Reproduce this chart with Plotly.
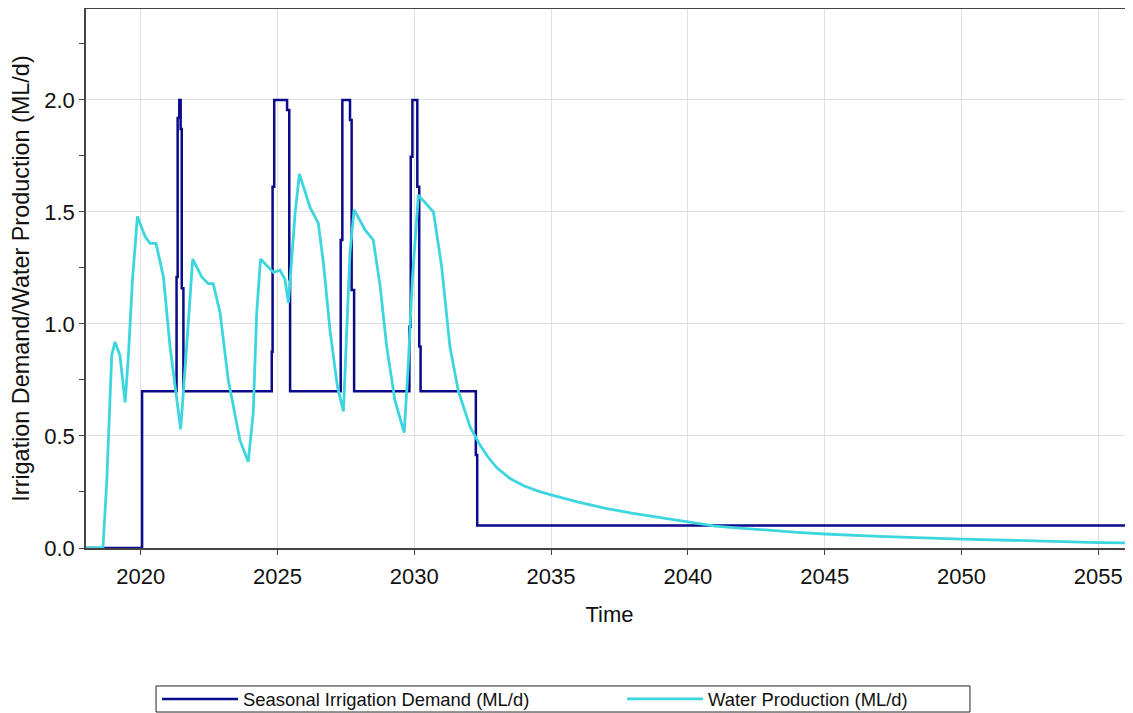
import plotly.graph_objects as go

# Seasonal Irrigation Demand (step series, value holds until next time)
demand_time = [2018.0, 2020.05, 2021.31, 2021.35, 2021.41, 2021.46, 2021.50, 2021.56,
               2024.79, 2024.82, 2024.88, 2025.35, 2025.43, 2025.46,
               2027.31, 2027.37, 2027.65, 2027.71, 2027.80,
               2029.82, 2029.87, 2029.93, 2030.11, 2030.18, 2030.23,
               2032.25, 2032.30, 2056.27]
demand_value = [0.0, 0.7, 1.21, 1.92, 2.0, 1.87, 1.16, 0.7,
                0.876, 1.613, 2.0, 1.955, 1.2, 0.7,
                1.375, 2.0, 1.91, 1.152, 0.7,
                0.988, 1.747, 2.0, 1.613, 0.899, 0.7,
                0.415, 0.1, 0.1]

# Water Production
prod_time = [2018.0, 2018.62, 2018.76, 2018.85, 2018.94, 2019.06, 2019.24, 2019.43, 2019.55,
             2019.70, 2019.88, 2020.16, 2020.34, 2020.56, 2020.83, 2021.07, 2021.31, 2021.46,
             2021.68, 2021.90, 2022.23, 2022.47, 2022.65, 2022.90, 2023.20, 2023.63, 2023.93,
             2024.11, 2024.24, 2024.38, 2024.85, 2025.09, 2025.27, 2025.40, 2025.64, 2025.80,
             2026.19, 2026.49, 2026.68, 2026.92, 2027.19, 2027.41, 2027.53, 2027.65, 2027.80,
             2028.20, 2028.50, 2028.75, 2028.99, 2029.29, 2029.63, 2029.78, 2029.93, 2030.15,
             2030.70, 2031.00, 2031.30, 2031.61, 2032.04, 2032.40, 2032.70, 2033.00, 2033.50,
             2034.00, 2034.50, 2035.00, 2036.00, 2037.00, 2038.00, 2039.00, 2040.00, 2041.00,
             2042.00, 2043.00, 2044.00, 2045.00, 2047.00, 2050.00, 2052.50, 2055.00, 2056.27]
prod_value = [0.0, 0.0, 0.30, 0.61, 0.86, 0.92, 0.86, 0.65, 0.86,
              1.20, 1.48, 1.39, 1.36, 1.36, 1.21, 0.90, 0.66, 0.53,
              0.90, 1.29, 1.21, 1.18, 1.18, 1.05, 0.75, 0.48, 0.385,
              0.60, 1.05, 1.29, 1.23, 1.24, 1.20, 1.095, 1.49, 1.67,
              1.52, 1.45, 1.27, 0.97, 0.72, 0.61, 0.97, 1.32, 1.51,
              1.42, 1.375, 1.17, 0.90, 0.66, 0.515, 0.82, 1.20, 1.575,
              1.50, 1.256, 0.90, 0.70, 0.54, 0.46, 0.405, 0.36, 0.31,
              0.278, 0.255, 0.237, 0.205, 0.177, 0.155, 0.135, 0.118, 0.098,
              0.088, 0.078, 0.070, 0.0625, 0.052, 0.040, 0.031, 0.024, 0.022]

x_ticks = [2020, 2025, 2030, 2035, 2040, 2045, 2050, 2055]
y_ticks = [0.0, 0.5, 1.0, 1.5, 2.0]
y_minor = [0.25, 0.75, 1.25, 1.75, 2.25]

FONT = "Liberation Sans, Arial, sans-serif"

fig = go.Figure()
fig.add_trace(go.Scatter(
    x=demand_time, y=demand_value, mode="lines", line_shape="hv",
    line=dict(color="#0a0a8a", width=2.5),
    name="Seasonal Irrigation Demand (ML/d)", legend="legend"))
fig.add_trace(go.Scatter(
    x=prod_time, y=prod_value, mode="lines",
    line=dict(color="#3dd6de", width=2.8),
    name="Water Production (ML/d)", legend="legend2"))

leg_common = dict(orientation="h", yanchor="middle", xanchor="left",
                  xref="container", yref="container",
                  bgcolor="rgba(0,0,0,0)", borderwidth=0, itemwidth=76,
                  font=dict(family=FONT, size=18.4, color="#111"))

fig.update_layout(
    width=1125, height=705,
    margin=dict(l=78, r=0, t=1, b=165, autoexpand=False),
    plot_bgcolor="white", paper_bgcolor="white",
    font=dict(family=FONT, color="#111", size=22),
    showlegend=True,
    legend=dict(x=0.1325, y=0.0199, **leg_common),
    legend2=dict(x=0.5458, y=0.0199, **leg_common),
    shapes=[dict(type="rect", xref="paper", yref="paper",
                 x0=0.0669, x1=0.8443, y0=-0.3043, y1=-0.256,
                 line=dict(color="#222", width=1), fillcolor="rgba(0,0,0,0)")],
)
fig.update_xaxes(
    range=[2018.0, 2056.27], tickvals=x_ticks, ticktext=[str(v) for v in x_ticks],
    showgrid=True, gridcolor="#e0e0e0", gridwidth=1,
    showline=True, linecolor="#444", linewidth=1.5, mirror=True,
    ticks="outside", ticklen=5, tickcolor="#444", ticklabelstandoff=3,
    tickfont=dict(size=22, family=FONT, color="#111"),
    title=dict(text="Time", font=dict(size=22, family=FONT, color="#111"), standoff=18),
    zeroline=False)
fig.update_yaxes(
    range=[0, 2.406], tickvals=y_ticks, ticktext=[f"{v:.1f}" for v in y_ticks],
    showgrid=True, gridcolor="#e0e0e0", gridwidth=1,
    showline=True, linecolor="#444", linewidth=1.5, mirror=False,
    ticks="outside", ticklen=5, tickcolor="#444",
    minor=dict(tickvals=y_minor, ticks="outside", ticklen=5,
               tickcolor="#444", showgrid=False),
    tickfont=dict(size=22, family=FONT, color="#111"),
    title=dict(text="Irrigation Demand/Water Production (ML/d)",
               font=dict(size=23.4, family=FONT, color="#111"), standoff=10),
    zeroline=False)

fig.write_html("out.html")
